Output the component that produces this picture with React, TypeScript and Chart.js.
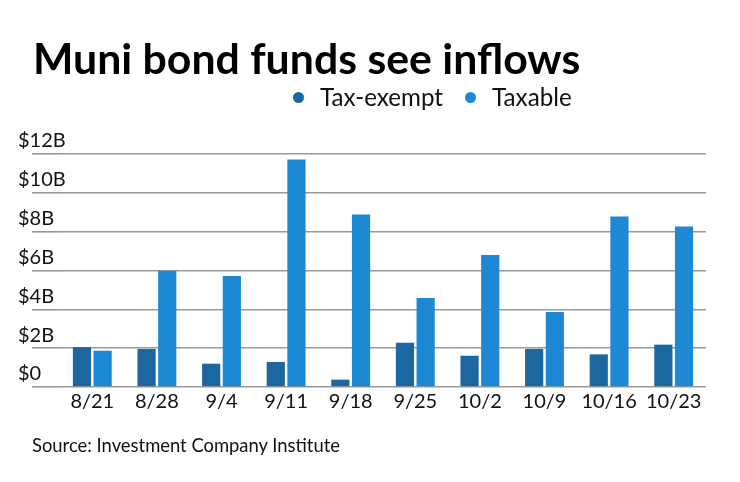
import React, { useEffect, useRef } from "react";
import { Chart, registerables } from "chart.js";

Chart.register(...registerables);

const weeks = ["8/21", "8/28", "9/4", "9/11", "9/18", "9/25", "10/2", "10/9", "10/16", "10/23"];
const taxExempt = [2.05, 1.96, 1.2, 1.29, 0.38, 2.28, 1.61, 1.96, 1.68, 2.18];
const taxable = [1.87, 5.99, 5.72, 11.72, 8.89, 4.58, 6.8, 3.86, 8.78, 8.27];
const yTicks = [0, 2, 4, 6, 8, 10, 12];

const seriesNames = ["Tax-exempt", "Taxable"];
const seriesColors = ["#1c67a0", "#1d88d3"];

const FONT = "Lato, 'Noto Sans', sans-serif";

export default function App() {
  const canvasRef = useRef<HTMLCanvasElement | null>(null);

  useEffect(() => {
    const canvas = canvasRef.current;
    if (!canvas) return;
    const chart = new Chart(canvas, {
      type: "bar",
      data: {
        labels: weeks,
        datasets: [
          {
            label: seriesNames[0],
            data: taxExempt,
            backgroundColor: seriesColors[0],
            categoryPercentage: 0.64,
            barPercentage: 0.88,
          },
          {
            label: seriesNames[1],
            data: taxable,
            backgroundColor: seriesColors[1],
            categoryPercentage: 0.64,
            barPercentage: 0.88,
          },
        ],
      },
      options: {
        animation: false,
        responsive: false,
        maintainAspectRatio: false,
        layout: { padding: { left: 18, right: 34, top: 154, bottom: 0 } },
        plugins: {
          legend: { display: false },
          tooltip: { enabled: false },
          title: { display: false },
        },
        scales: {
          x: {
            grid: { display: false, drawTicks: false },
            border: { display: false },
            ticks: {
              color: "#111",
              font: { family: FONT, size: 20 },
              padding: 3,
              maxRotation: 0,
            },
            afterFit: (scale: any) => {
              scale.height = 482 - 387;
            },
          },
          y: {
            min: 0,
            max: 12,
            afterBuildTicks: (scale: any) => {
              scale.ticks = yTicks.map((v) => ({ value: v }));
            },
            grid: {
              color: "#999",
              lineWidth: 1.6,
              tickLength: 28,
              drawTicks: true,
            },
            border: { display: false },
            ticks: {
              color: "#111",
              font: { family: FONT, size: 20 },
              mirror: true,
              padding: -42,
              labelOffset: -13,
              callback: (v: any) => (v === 0 ? "$0" : "$" + v + "B"),
            },
            afterFit: (scale: any) => {
              scale.width = 42;
            },
          },
        },
      },
    });
    return () => chart.destroy();
  }, []);

  const dot = (c: string) => (
    <span
      style={{
        display: "inline-block",
        width: 11,
        height: 11,
        borderRadius: "50%",
        background: c,
        marginRight: 16,
        verticalAlign: "middle",
        position: "relative",
        top: -2,
      }}
    />
  );

  return (
    <div
      style={{
        position: "fixed",
        left: 0,
        top: 0,
        width: 740,
        height: 482,
        background: "#fff",
        fontFamily: FONT,
        color: "#111",
      }}
    >
      <canvas ref={canvasRef} width={740} height={482} style={{ position: "absolute", left: 0, top: 0 }} />
      <div
        style={{
          position: "absolute",
          left: 33,
          top: 36,
          fontSize: 42.8,
          lineHeight: "43px",
          fontWeight: 700,
          whiteSpace: "nowrap",
          color: "#000",
        }}
      >
        Muni bond funds see inflows
      </div>
      <div
        style={{
          position: "absolute",
          left: 293,
          top: 84,
          fontSize: 24.2,
          lineHeight: "26px",
          whiteSpace: "nowrap",
        }}
      >
        {dot(seriesColors[0])}
        <span style={{ marginRight: 22 }}>{seriesNames[0]}</span>
        {dot(seriesColors[1])}
        <span>{seriesNames[1]}</span>
      </div>
      <div
        style={{
          position: "absolute",
          left: 32,
          top: 434,
          fontSize: 18.4,
          lineHeight: "22px",
          whiteSpace: "nowrap",
        }}
      >
        Source: Investment Company Institute
      </div>
    </div>
  );
}
